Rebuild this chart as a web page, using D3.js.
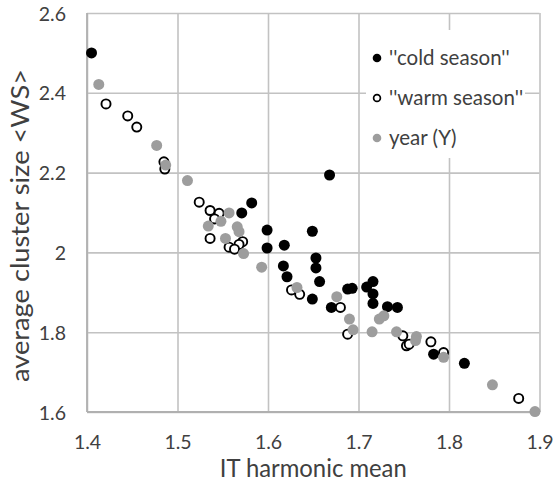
<!DOCTYPE html>
<html>
<head>
<meta charset="utf-8">
<script src="https://cdn.jsdelivr.net/npm/d3@7/dist/d3.min.js"></script>
<style>
  html, body { margin: 0; padding: 0; background: #fff; }
  svg { display: block; }
  text { font-family: Lato, "Open Sans", sans-serif; fill: #404040; }
</style>
</head>
<body>
<svg id="chart" width="553" height="481"></svg>
<script>
// ---- data ----
const coldX = [1.405,1.582,1.571,1.668,1.599,1.599,1.618,1.649,1.653,1.617,1.653,1.621,1.657,1.649,1.688,1.693,1.709,1.716,1.716,1.670,1.716,1.732,1.743,1.783,1.817];
const coldY = [2.500,2.124,2.099,2.194,2.056,2.011,2.018,2.053,1.986,1.966,1.961,1.939,1.927,1.883,1.908,1.910,1.913,1.927,1.896,1.862,1.872,1.864,1.862,1.745,1.722];

const warmX = [1.421,1.445,1.455,1.485,1.486,1.524,1.536,1.546,1.541,1.536,1.572,1.568,1.557,1.563,1.626,1.635,1.680,1.688,1.749,1.753,1.756,1.780,1.794,1.877];
const warmY = [2.372,2.342,2.314,2.227,2.209,2.126,2.105,2.098,2.084,2.035,2.027,2.020,2.013,2.008,1.906,1.895,1.862,1.795,1.791,1.766,1.770,1.776,1.749,1.634];

const yearX = [1.413,1.477,1.487,1.511,1.557,1.548,1.534,1.566,1.568,1.553,1.573,1.593,1.632,1.676,1.690,1.694,1.715,1.723,1.728,1.742,1.764,1.763,1.794,1.848,1.895];
const yearY = [2.421,2.268,2.219,2.180,2.099,2.078,2.066,2.064,2.052,2.035,1.997,1.963,1.912,1.889,1.833,1.806,1.801,1.833,1.841,1.801,1.789,1.779,1.737,1.668,1.601];

const xTicks = [1.4, 1.5, 1.6, 1.7, 1.8, 1.9];
const xTickLabels = ["1.4", "1.5", "1.6", "1.7", "1.8", "1.9"];
const yTicks = [1.6, 1.8, 2.0, 2.2, 2.4, 2.6];
const yTickLabels = ["1.6", "1.8", "2", "2.2", "2.4", "2.6"];

const seriesNames = ["''cold season''", "''warm season''", "year (Y)"];
const xTitle = "IT harmonic mean";
const yTitle = "average cluster size <WS>";

// ---- layout ----
const svg = d3.select("#chart");
const pLeft = 87, pRight = 539.5, pTop = 13, pBottom = 412;

const x = d3.scaleLinear().domain([1.4, 1.9]).range([pLeft, pRight]);
const y = d3.scaleLinear().domain([1.6, 2.6]).range([pBottom, pTop]);

const gridColor = "#c2c2c2";

// vertical gridlines
const gx = svg.append("g")
  .attr("transform", `translate(0,${pBottom})`)
  .call(d3.axisBottom(x).tickValues(xTicks).tickSize(-(pBottom - pTop)).tickFormat(""));
gx.select(".domain").remove();
gx.selectAll("line").attr("stroke", gridColor).attr("stroke-width", 1.6);

// horizontal gridlines
const gy = svg.append("g")
  .attr("transform", `translate(${pLeft},0)`)
  .call(d3.axisLeft(y).tickValues(yTicks).tickSize(-(pRight - pLeft)).tickFormat(""));
gy.select(".domain").remove();
gy.selectAll("line").attr("stroke", gridColor).attr("stroke-width", 1.6);

// axis lines
svg.append("line").attr("x1", pLeft).attr("x2", pRight).attr("y1", pBottom).attr("y2", pBottom)
  .attr("stroke", "#b0b0b0").attr("stroke-width", 1.8);
svg.append("line").attr("x1", pLeft).attr("x2", pLeft).attr("y1", pTop).attr("y2", pBottom)
  .attr("stroke", "#b0b0b0").attr("stroke-width", 1.8);

// tick labels
const xa = svg.append("g")
  .attr("transform", `translate(0,${pBottom})`)
  .call(d3.axisBottom(x).tickValues(xTicks).tickSize(0).tickPadding(0)
    .tickFormat((d, i) => xTickLabels[i]));
xa.select(".domain").remove();
xa.selectAll("text").attr("y", 37).attr("dy", 0)
  .style("font-size", "19.5px").style("fill", "#404040");

const ya = svg.append("g")
  .attr("transform", `translate(${pLeft},0)`)
  .call(d3.axisLeft(y).tickValues(yTicks).tickSize(0).tickPadding(0)
    .tickFormat((d, i) => yTickLabels[i]));
ya.select(".domain").remove();
ya.selectAll("text").attr("x", -21).attr("dy", "0.36em")
  .style("font-size", "19.5px").style("fill", "#404040");

// titles
svg.append("text")
  .attr("x", (pLeft + pRight) / 2).attr("y", 477)
  .attr("text-anchor", "middle")
  .attr("textLength", 187).attr("lengthAdjust", "spacingAndGlyphs")
  .style("font-size", "25px")
  .text(xTitle);

svg.append("text")
  .attr("transform", "translate(29,225.5) rotate(-90)")
  .attr("text-anchor", "middle")
  .attr("textLength", 313).attr("lengthAdjust", "spacingAndGlyphs")
  .style("font-size", "25px")
  .text(yTitle);

// legend background
svg.append("rect")
  .attr("x", 366).attr("y", 30).attr("width", 159).attr("height", 128)
  .attr("fill", "#fff");

// points
const r = 5.5;
function dataOf(xs, ys) { return xs.map((v, i) => ({ x: v, y: ys[i] })); }

svg.append("g").selectAll("circle").data(dataOf(coldX, coldY)).join("circle")
  .attr("cx", d => x(d.x)).attr("cy", d => y(d.y)).attr("r", r)
  .attr("fill", "#000");

svg.append("g").selectAll("circle").data(dataOf(warmX, warmY)).join("circle")
  .attr("cx", d => x(d.x)).attr("cy", d => y(d.y)).attr("r", r - 0.95)
  .attr("fill", "#fff").attr("stroke", "#000").attr("stroke-width", 1.9);

svg.append("g").selectAll("circle").data(dataOf(yearX, yearY)).join("circle")
  .attr("cx", d => x(d.x)).attr("cy", d => y(d.y)).attr("r", r)
  .attr("fill", "#9d9d9d");

// legend
const legY = [58, 98, 138];
const lg = svg.append("g");
lg.append("circle").attr("cx", 377).attr("cy", legY[0]).attr("r", 4.3).attr("fill", "#000");
lg.append("circle").attr("cx", 377).attr("cy", legY[1]).attr("r", 3.4)
  .attr("fill", "#fff").attr("stroke", "#000").attr("stroke-width", 1.7);
lg.append("circle").attr("cx", 377).attr("cy", legY[2]).attr("r", 4.3).attr("fill", "#9d9d9d");
seriesNames.forEach((s, i) => {
  lg.append("text").attr("x", 389).attr("y", legY[i]).attr("dy", "0.35em")
    .style("font-size", "20.5px").text(s);
});
</script>
</body>
</html>
